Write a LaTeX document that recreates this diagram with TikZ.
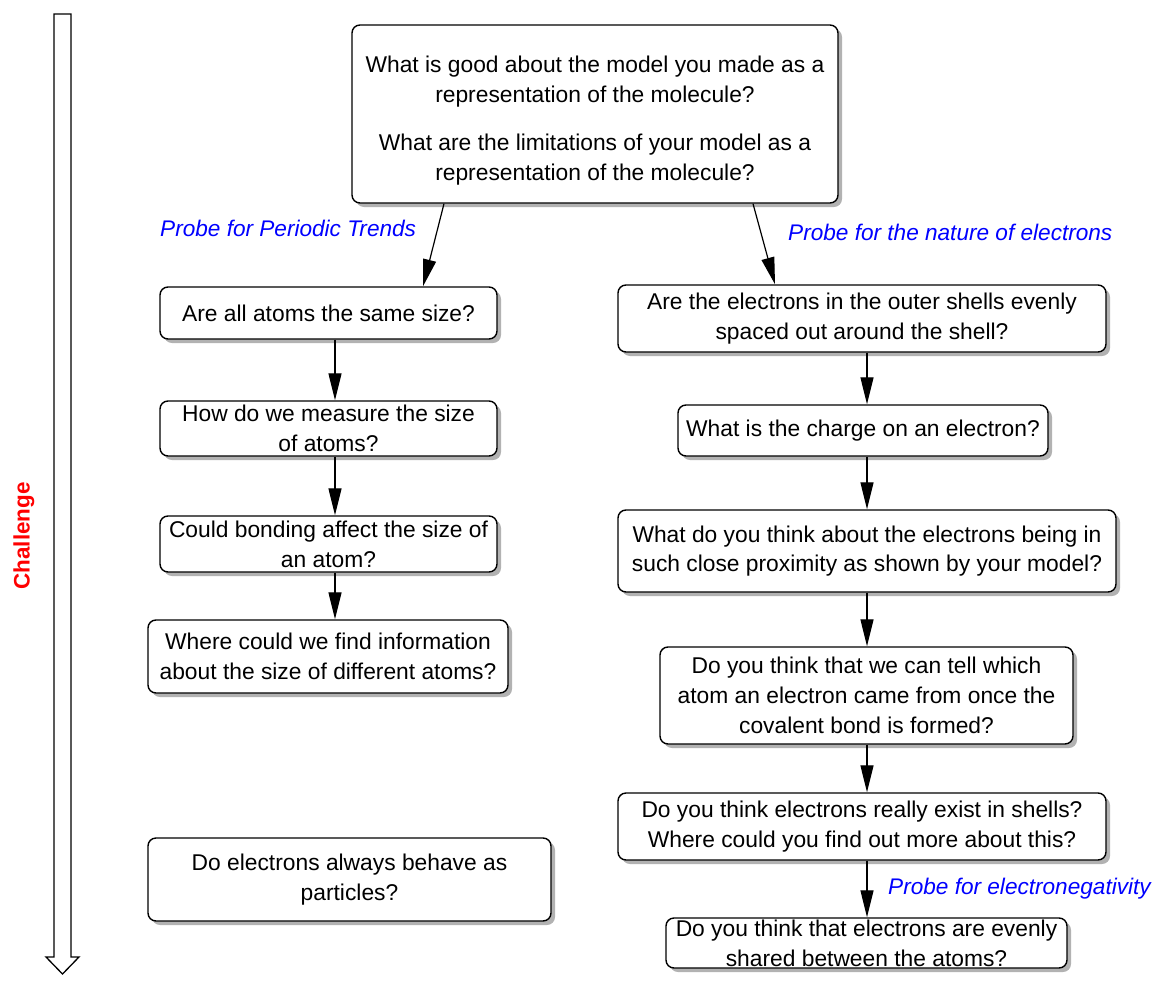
\documentclass[tikz,border=0pt]{standalone}
\usepackage{fontspec}
\setmainfont{Liberation Sans}
\usetikzlibrary{arrows.meta,shadows}
\begin{document}
\begin{tikzpicture}[x=1pt,y=-1pt,
  box/.style={draw=black, line width=1.4pt, rounded corners=8pt, fill=white,
    align=center, inner sep=0pt,
    font=\fontsize{22.8}{29.8}\selectfont,
    drop shadow={shadow xshift=4pt, shadow yshift=-4pt, fill=black!30, opacity=1}},
  arr/.style={-{Triangle[length=27pt,width=13pt]}, line width=1.2pt},
  lab/.style={text=blue, inner sep=0pt, font=\itshape\fontsize{22.6}{27}\selectfont},
  bigarrow/.style={draw=black, line width=1.3pt, fill=white}
]
\useasboundingbox (0,0) rectangle (1152,983);

% challenge arrow
\draw[bigarrow] (54,14) -- (71,14) -- (71,957) -- (79,957) -- (62.5,974) -- (46,957) -- (54,957) -- cycle;
\node[rotate=90, text=red, inner sep=0pt, font=\bfseries\fontsize{22.4}{27}\selectfont] (ch) at (24,536) {Challenge};

% top box
\node[box, minimum width=486pt, minimum height=178pt] (top) at (595,114)
  {\rule{0pt}{8pt}\\[-8pt]What is good about the model you made as a\\representation of the molecule?\\[18pt]
   What are the limitations of your model as a\\representation of the molecule?};

% left column
\node[box, minimum width=337pt, minimum height=52pt] (l1) at (328.5,313) {Are all atoms the same size?};
\node[box, minimum width=337pt, minimum height=55pt] (l2) at (328.5,428.5) {How do we measure the size\\of atoms?};
\node[box, minimum width=337pt, minimum height=56pt] (l3) at (328.5,544) {Could bonding affect the size of\\an atom?};
\node[box, minimum width=360pt, minimum height=73pt] (l4) at (328,656.5) {Where could we find information\\about the size of different atoms?};
\node[box, minimum width=403pt, minimum height=83pt] (l5) at (349.5,879.5) {Do electrons always behave as\\particles?};

% right column
\node[box, minimum width=488pt, minimum height=67pt] (r1) at (862,318.5) {Are the electrons in the outer shells evenly\\spaced out around the shell?};
\node[box, minimum width=370pt, minimum height=51pt] (r2) at (863,430.5) {What is the charge on an electron?};
\node[box, minimum width=498pt, minimum height=82pt] (r3) at (867,551) {What do you think about the electrons being in\\such close proximity as shown by your model?};
\node[box, minimum width=413pt, minimum height=97pt] (r4) at (866.5,695.5) {Do you think that we can tell which\\atom an electron came from once the\\covalent bond is formed?};
\node[box, minimum width=488pt, minimum height=67pt] (r5) at (862,826.5) {Do you think electrons really exist in shells?\\Where could you find out more about this?};
\node[box, minimum width=401pt, minimum height=50pt] (r6) at (866.5,943) {Do you think that electrons are evenly\\shared between the atoms?};

% labels
\node[lab, anchor=west] (p1) at (160,228) {Probe for Periodic Trends};
\node[lab, anchor=west] (p2) at (788,232) {Probe for the nature of electrons};
\node[lab, anchor=west] (p3) at (888,889) {Probe for electronegativity};

% arrows
\draw[arr] (top.south -| 444,0) -- (l1.north -| 423,0);
\draw[arr] (top.south -| 753,0) -- (r1.north -| 775,0);
\draw[arr] (l1.south -| 335,0) -- (l2.north -| 335,0);
\draw[arr] (l2.south -| 335,0) -- (l3.north -| 335,0);
\draw[arr] (l3.south -| 335,0) -- (l4.north -| 335,0);
\draw[arr] (r1.south -| 867,0) -- (r2.north -| 867,0);
\draw[arr] (r2.south -| 867,0) -- (r3.north -| 867,0);
\draw[arr] (r3.south -| 867,0) -- (r4.north -| 867,0);
\draw[arr] (r4.south -| 867,0) -- (r5.north -| 867,0);
\draw[arr] (r5.south -| 867,0) -- (r6.north -| 867,0);
\end{tikzpicture}
\end{document}
